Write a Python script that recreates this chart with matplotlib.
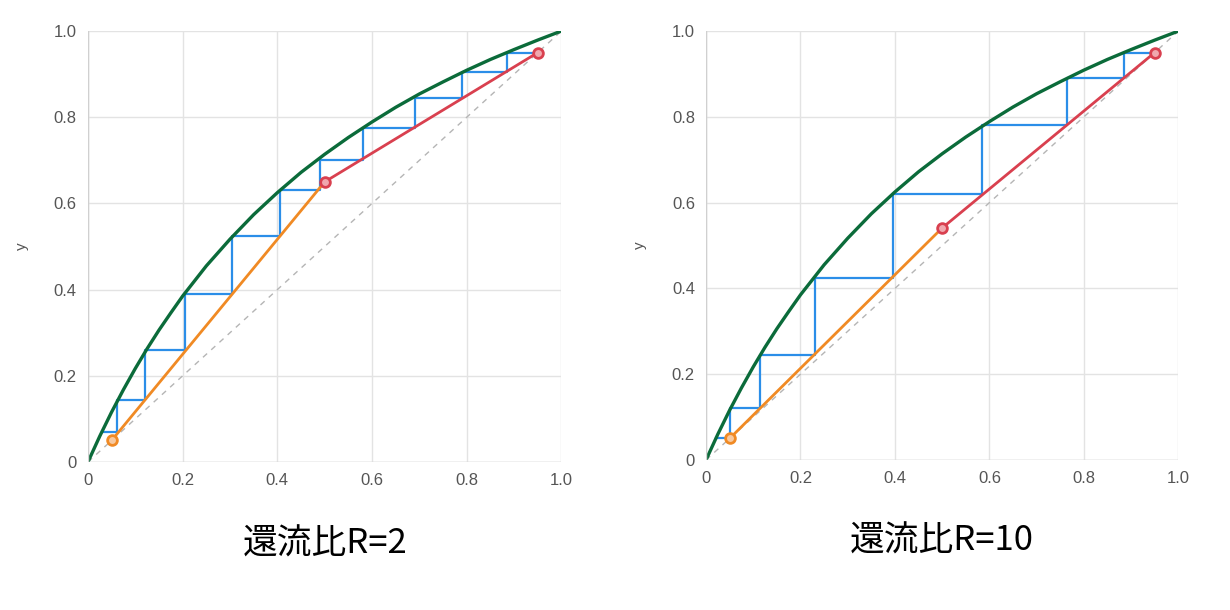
import matplotlib
matplotlib.use("Agg")
import matplotlib.pyplot as plt

plt.rcParams['font.family'] = ['Noto Sans CJK JP', 'DejaVu Sans']

# equilibrium curve
eq_x = [0, 0.025, 0.05, 0.075, 0.1, 0.125, 0.15, 0.175, 0.2, 0.25, 0.3, 0.35, 0.4,
        0.45, 0.5, 0.55, 0.6, 0.65, 0.7, 0.75, 0.8, 0.85, 0.9, 0.95, 1.0]
eq_y = [0, 0.06, 0.116, 0.168, 0.217, 0.263, 0.306, 0.346, 0.385, 0.455, 0.517, 0.574, 0.625,
        0.672, 0.714, 0.753, 0.789, 0.823, 0.854, 0.882, 0.909, 0.934, 0.957, 0.979, 1.0]

tick_vals = [0, 0.2, 0.4, 0.6, 0.8, 1.0]
tick_labels = ["0", "0.2", "0.4", "0.6", "0.8", "1.0"]

# R = 2
r2_feed = (0.5, 0.65)
r2_step_x = [0.884, 0.79, 0.69, 0.58, 0.49, 0.405, 0.305, 0.205, 0.12, 0.062, 0.03]
r2_step_y = [0.95, 0.905, 0.845, 0.775, 0.70, 0.63, 0.525, 0.39, 0.26, 0.145, 0.07, 0.07]

# R = 10
r10_feed = (0.5, 0.541)
r10_step_x = [0.884, 0.764, 0.585, 0.395, 0.23, 0.115, 0.05, 0.022]
r10_step_y = [0.95, 0.89, 0.781, 0.62, 0.425, 0.245, 0.12, 0.05, 0.05]

xd, xw = 0.95, 0.05
GREEN = "#0b6b3a"; BLUE = "#2b8ee8"; ORANGE = "#f08a24"; RED = "#d9404f"


def panel(ax, feed, sx, sy, title):
    ax.plot([0, 1], [0, 1], ls=(0, (4, 4)), color="#b5b5b5", lw=1)
    px, py = [xd], [sy[0]]
    for i, x in enumerate(sx):
        px += [x, x]
        py += [sy[i], sy[i + 1]]
    ax.plot(px, py, color=BLUE, lw=1.6)
    ax.plot([xw, feed[0]], [xw, feed[1]], color=ORANGE, lw=2)
    ax.plot([feed[0], xd], [feed[1], xd], color=RED, lw=2)
    ax.plot(eq_x, eq_y, color=GREEN, lw=2.4)
    ax.plot([xw], [xw], "o", ms=7, mfc="#f7c9a0", mec=ORANGE, mew=2)
    ax.plot([feed[0], xd], [feed[1], xd], "o", ms=7, mfc="#f0a8ae", mec=RED, mew=2, ls="none")
    ax.set_xlim(0, 1)
    ax.set_ylim(0, 1)
    ax.set_xticks(tick_vals, tick_labels)
    ax.set_yticks(tick_vals, tick_labels)
    for lab in ax.get_xticklabels() + ax.get_yticklabels():
        lab.set_family("Liberation Sans")
    ax.tick_params(colors="#555555", labelsize=12, length=0, pad=8)
    ax.grid(color="#e3e3e3", lw=1)
    for s in ax.spines.values():
        s.set_visible(False)
    ax.axhline(0, color="#d0d0d0", lw=1)
    ax.axvline(0, color="#d0d0d0", lw=1)
    ax.set_ylabel("y", color="#555555", fontsize=11, labelpad=18, family="Liberation Sans")
    ax.text(0.5, -0.19, title, transform=ax.transAxes, ha="center", va="center", fontsize=25)


fig = plt.figure(figsize=(12.3, 6.1), dpi=100)
ax1 = fig.add_axes([0.0715, 0.2426, 0.385, 0.7066])
ax2 = fig.add_axes([0.574, 0.246, 0.384, 0.703])
panel(ax1, r2_feed, r2_step_x, r2_step_y, "還流比R=2")
panel(ax2, r10_feed, r10_step_x, r10_step_y, "還流比R=10")
fig.savefig("out.png", dpi=100)
